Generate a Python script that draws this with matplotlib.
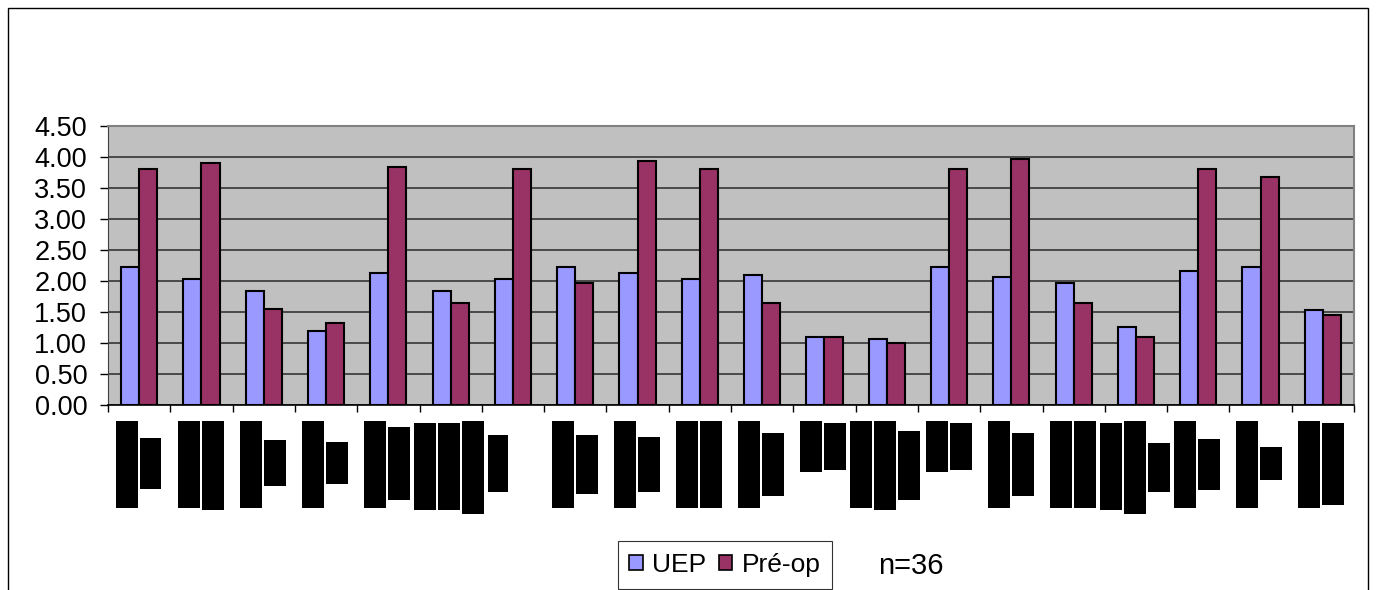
import numpy as np
import matplotlib
matplotlib.use('Agg')
import matplotlib.pyplot as plt
from matplotlib.patches import Rectangle, Patch

plt.rcParams['font.family'] = ['Liberation Sans', 'DejaVu Sans']

# data
n_cats = 20
uep = [2.23, 2.03, 1.84, 1.20, 2.13, 1.84, 2.03, 2.23, 2.13, 2.03,
       2.10, 1.10, 1.06, 2.23, 2.06, 1.97, 1.26, 2.16, 2.23, 1.54]
preop = [3.80, 3.91, 1.55, 1.33, 3.84, 1.65, 3.80, 1.97, 3.94, 3.80,
         1.65, 1.10, 1.00, 3.80, 3.96, 1.65, 1.10, 3.80, 3.67, 1.45]
series_names = ['UEP', 'Pré-op']
yticks = [0.0, 0.5, 1.0, 1.5, 2.0, 2.5, 3.0, 3.5, 4.0, 4.5]

# redacted category labels (black blocks), pixel boxes x0, x1, y0, y1
redact_boxes = [
    (116, 138, 421, 508), (140, 161, 438, 489),
    (178, 200, 421, 508), (202, 224, 421, 510),
    (240, 262, 421, 508), (264, 286, 440, 486),
    (302, 324, 421, 508), (326, 348, 442, 484),
    (364, 386, 421, 508), (388, 410, 427, 500),
    (414, 436, 423, 510), (438, 460, 423, 510),
    (462, 484, 421, 514), (488, 508, 435, 492),
    (552, 574, 421, 508), (576, 598, 435, 494),
    (614, 636, 421, 508), (638, 660, 437, 492),
    (676, 698, 421, 508), (700, 722, 421, 508),
    (738, 760, 421, 508), (762, 784, 433, 496),
    (800, 822, 421, 472), (824, 846, 423, 470),
    (850, 872, 421, 508), (874, 896, 421, 510), (898, 920, 431, 500),
    (926, 948, 421, 472), (950, 972, 423, 470),
    (988, 1010, 421, 508), (1012, 1034, 433, 496),
    (1050, 1072, 421, 508), (1074, 1096, 421, 508),
    (1100, 1122, 423, 510), (1124, 1146, 421, 514), (1148, 1170, 443, 492),
    (1174, 1196, 421, 508), (1198, 1220, 439, 490),
    (1236, 1258, 421, 508), (1260, 1282, 447, 480),
    (1298, 1320, 421, 508), (1322, 1344, 423, 505),
]

W, H = 1377, 590
fig = plt.figure(figsize=(W / 100, H / 100), dpi=100)
ax = fig.add_axes([108 / W, 1 - 405 / H, (1354 - 108) / W, (405 - 126) / H])
ax.set_facecolor('#C0C0C0')

x = np.arange(n_cats)
bw = 0.29
ax.bar(x - bw / 2, uep, bw, color='#9999FF', edgecolor='black', linewidth=1.5, zorder=3)
ax.bar(x + bw / 2, preop, bw, color='#993366', edgecolor='black', linewidth=1.5, zorder=3)

ax.set_xlim(-0.5, n_cats - 0.5)
ax.set_ylim(0, 4.5)
ax.set_yticks(yticks)
ax.set_yticklabels(['%.2f' % v for v in yticks], fontsize=19.5)
ax.yaxis.grid(True, color='#404040', linewidth=1.3, zorder=1)
ax.set_xticks(np.arange(n_cats + 1) - 0.5)
ax.set_xticklabels([])
ax.tick_params(axis='y', direction='out', length=6, width=1, pad=9, colors='black')
ax.tick_params(axis='x', direction='out', length=5, width=1)

for side in ['top', 'right']:
    ax.spines[side].set_color('#808080')
    ax.spines[side].set_linewidth(1.5)
ax.spines['left'].set_color('#404040')
ax.spines['bottom'].set_color('black')
ax.spines['bottom'].set_linewidth(1.2)

# outer chart frame
fig.add_artist(Rectangle((8 / W, -0.05), (1368 - 8) / W, 1 - 8 / H + 0.05,
                         transform=fig.transFigure, fill=False,
                         edgecolor='black', linewidth=1))

for (x0, x1, y0, y1) in redact_boxes:
    fig.add_artist(Rectangle((x0 / W, 1 - y1 / H), (x1 - x0) / W, (y1 - y0) / H,
                             transform=fig.transFigure, color='black', lw=0))

handles = [Patch(facecolor='#9999FF', edgecolor='black', linewidth=1.2),
           Patch(facecolor='#993366', edgecolor='black', linewidth=1.2)]
leg = fig.legend(handles, series_names, loc='center',
                 bbox_to_anchor=(725 / W, 1 - 565 / H), ncol=2, fontsize=19,
                 frameon=True, fancybox=False, handlelength=0.5, handleheight=0.5,
                 handletextpad=0.35, columnspacing=0.5, borderpad=0.45,
                 borderaxespad=0)
leg.get_frame().set_edgecolor('black')
leg.get_frame().set_linewidth(0.8)

fig.text(911 / W, 1 - 566 / H, 'n=36', fontsize=21, ha='center', va='center')

fig.savefig('out.png', dpi=100)
